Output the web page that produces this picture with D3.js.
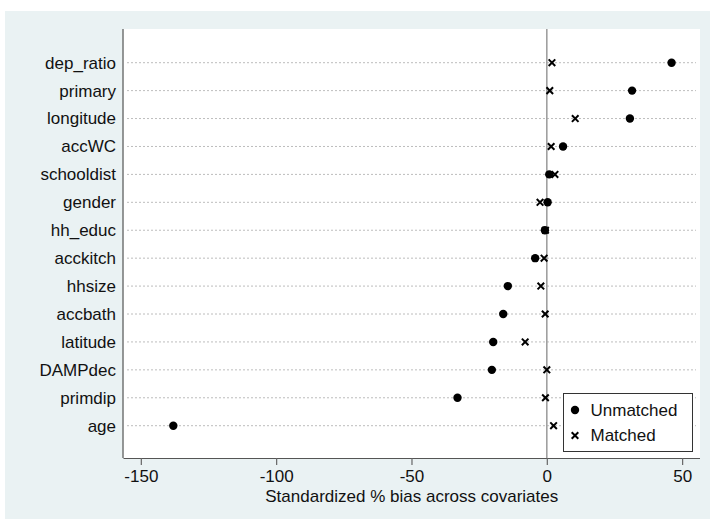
<!DOCTYPE html>
<html>
<head>
<meta charset="utf-8">
<script src="https://cdn.jsdelivr.net/npm/d3@7"></script>
<style>
  html, body { margin: 0; padding: 0; background: #ffffff; }
  svg { display: block; }
  text { font-family: "Liberation Sans", Arial, sans-serif; }
</style>
</head>
<body>
<svg id="chart" width="710" height="519"></svg>
<script>
// Covariates, top to bottom
const covariates = ["dep_ratio", "primary", "longitude", "accWC", "schooldist", "gender",
  "hh_educ", "acckitch", "hhsize", "accbath", "latitude", "DAMPdec", "primdip", "age"];
// Standardized % bias before matching
const unmatched = [46.1, 31.5, 30.7, 6.0, 0.9, 0.3, -0.7, -4.3, -14.4, -16.1, -19.8, -20.3, -33.0, -138.0];
// Standardized % bias after matching
const matched = [1.9, 1.1, 10.5, 1.6, 3.0, -2.5, -0.5, -1.0, -2.2, -0.6, -8.0, 0.0, -0.5, 2.5];
const xTicks = [-150, -100, -50, 0, 50];
const seriesNames = ["Unmatched", "Matched"];

const svg = d3.select("#chart");
const W = 710, H = 519;
const plot = { left: 123.5, right: 700, top: 29, bottom: 458 };
const textColor = "#111";

// graph region background
svg.append("rect").attr("x", 5).attr("y", 11).attr("width", W - 5).attr("height", H - 11)
  .attr("fill", "#eaf2f3");
svg.append("rect").attr("x", plot.left).attr("y", plot.top)
  .attr("width", plot.right - plot.left).attr("height", plot.bottom - plot.top)
  .attr("fill", "#ffffff");

const x = d3.scaleLinear().domain([-156.4, 56.6]).range([plot.left, plot.right]);
const y = d3.scalePoint().domain(covariates).range([62.7, 425.7]);

const rows = covariates.map((c, i) => ({ name: c, u: unmatched[i], m: matched[i] }));

// dotted guide lines per covariate
svg.append("g").selectAll("line").data(rows).join("line")
  .attr("x1", plot.left + 4).attr("x2", plot.right - 4)
  .attr("y1", d => y(d.name)).attr("y2", d => y(d.name))
  .attr("stroke", "#7a7a7a").attr("stroke-width", 1)
  .attr("stroke-dasharray", "1 3");

// reference line at zero
svg.append("line")
  .attr("x1", x(0)).attr("x2", x(0)).attr("y1", plot.top).attr("y2", plot.bottom)
  .attr("stroke", "#a0a0a0").attr("stroke-width", 1.6);

// x axis (plain hyphen for negative numbers)
const xAxis = d3.axisBottom(x).tickValues(xTicks).tickSize(7).tickPadding(5)
  .tickFormat(d => String(d));
const gx = svg.append("g").attr("transform", `translate(0,${plot.bottom})`).call(xAxis);
gx.select(".domain").attr("stroke", "#555").attr("stroke-width", 1.2)
  .attr("d", `M${plot.left},0.5H${plot.right}`);
gx.selectAll(".tick line").attr("stroke", "#666").attr("stroke-width", 1.2);
gx.selectAll(".tick text").attr("font-size", 17).attr("fill", textColor)
  .attr("font-family", "Liberation Sans, Arial, sans-serif");

// y axis (labels only, no ticks)
const yAxis = d3.axisLeft(y).tickSize(0).tickPadding(7.5);
const gy = svg.append("g").attr("transform", `translate(${plot.left},0)`).call(yAxis);
gy.select(".domain").attr("stroke", "#555").attr("stroke-width", 1.2)
  .attr("d", `M-0.5,${plot.top}V${plot.bottom}`);
gy.selectAll(".tick text").attr("font-size", 17).attr("fill", textColor)
  .attr("font-family", "Liberation Sans, Arial, sans-serif");

// axis title
svg.append("text").attr("x", (plot.left + plot.right) / 2).attr("y", 502)
  .attr("text-anchor", "middle").attr("font-size", 17).attr("fill", textColor)
  .text("Standardized % bias across covariates");

// markers
const crossPath = s => `M${-s},${-s}L${s},${s}M${-s},${s}L${s},${-s}`;

svg.append("g").selectAll("circle").data(rows).join("circle")
  .attr("cx", d => x(d.u)).attr("cy", d => y(d.name)).attr("r", 4.2)
  .attr("fill", "#000");

svg.append("g").selectAll("path").data(rows).join("path")
  .attr("transform", d => `translate(${x(d.m)},${y(d.name)})`)
  .attr("d", crossPath(3.3)).attr("stroke", "#000").attr("stroke-width", 2)
  .attr("fill", "none");

// legend
const lg = svg.append("g").attr("transform", "translate(563.5,393.5)");
lg.append("rect").attr("width", 129).attr("height", 58)
  .attr("fill", "#fff").attr("stroke", "#333").attr("stroke-width", 1);
lg.append("circle").attr("cx", 11.5).attr("cy", 16.5).attr("r", 4.2).attr("fill", "#000");
lg.append("path").attr("transform", "translate(11.5,42)").attr("d", crossPath(3.3))
  .attr("stroke", "#000").attr("stroke-width", 2).attr("fill", "none");
lg.selectAll("text.lab").data(seriesNames).join("text").attr("class", "lab")
  .attr("x", 27).attr("y", (d, i) => 16.5 + i * 25.5).attr("dy", "0.35em")
  .attr("font-size", 17).attr("fill", textColor).text(d => d);
</script>
</body>
</html>
